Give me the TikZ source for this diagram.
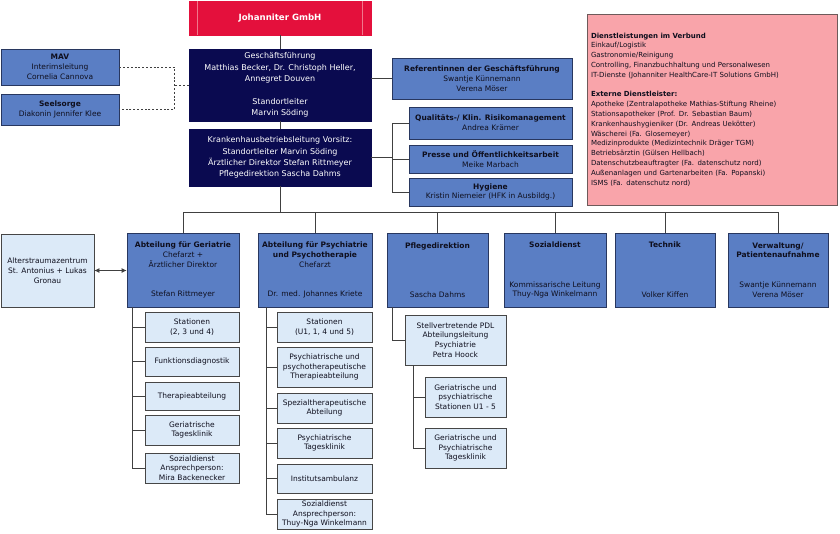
\documentclass[tikz,border=0pt]{standalone}
\usepackage{fontspec}
\setmainfont{DejaVu Sans}
\usetikzlibrary{arrows.meta,calc}
\definecolor{jred}{RGB}{228,16,60}
\definecolor{jredline}{RGB}{240,120,140}
\definecolor{navy}{RGB}{10,10,80}
\definecolor{midblue}{RGB}{90,126,196}
\definecolor{midborder}{RGB}{40,55,95}
\definecolor{lightblue}{RGB}{220,234,248}
\definecolor{lightborder}{RGB}{70,70,70}
\definecolor{pinkfill}{RGB}{249,164,170}
\definecolor{pinkborder}{RGB}{110,90,90}
\definecolor{connc}{RGB}{64,64,64}
\definecolor{txt}{RGB}{15,15,30}
\newcommand\ftxt{\fontsize{7.5}{9.8}\selectfont}
\newcommand\fbig{\fontsize{8}{11.3}\selectfont}
\newcommand\ftitle{\fontsize{8.6}{11}\selectfont\bfseries}
\newcommand\fpink{\fontsize{7}{9.8}\selectfont}
\begin{document}
\begin{tikzpicture}[x=1pt,y=-1pt,
  basebox/.style={inner sep=1pt, align=center, line width=0.8pt},
  redbox/.style={basebox, draw=jred, fill=jred, text=white, font=\ftitle},
  navybox/.style={basebox, draw=navy, fill=navy, text=white, font=\fbig},
  midbox/.style={basebox, draw=midborder, fill=midblue, text=txt, font=\ftxt},
  lightbox/.style={basebox, draw=lightborder, fill=lightblue, text=txt, font=\ftxt},
  pinkbox/.style={draw=pinkborder, fill=pinkfill, line width=0.8pt, inner xsep=4pt, inner ysep=2pt, align=left, text width=242pt, text=txt, font=\fpink},
  deptsize/.style={minimum height=74},
  conn/.style={draw=connc, line width=0.8pt},
  dashline/.style={draw=connc, line width=0.8pt, dash pattern=on 2pt off 1.8pt},
  redinner/.style={draw=jredline, line width=0.6pt}
]
\useasboundingbox[fill=white] (0,0) rectangle (840,533);

% top
\node[redbox, minimum width=182, minimum height=34] (joh) at (280,18) {Johanniter GmbH};
\draw[redinner] ($(joh.north west)+(9,0.6)$) -- ($(joh.south west)+(9,-0.6)$);
\draw[redinner] ($(joh.north east)+(-9,0.6)$) -- ($(joh.south east)+(-9,-0.6)$);

\node[navybox, minimum width=182, minimum height=72] (gf) at (280,85)
  {Geschäftsführung\\Matthias Becker, Dr. Christoph Heller,\\Annegret Douven\\[11.3pt]Standortleiter\\Marvin Söding};
\node[navybox, minimum width=182, minimum height=57] (kbl) at (280,157.5)
  {Krankenhausbetriebsleitung Vorsitz:\\Standortleiter Marvin Söding\\Ärztlicher Direktor Stefan Rittmeyer\\Pflegedirektion Sascha Dahms};

\draw[conn] (joh.south) -- (gf.north);
\draw[conn] (gf.south) -- (kbl.north);

% left staff
\node[midbox, minimum width=118, minimum height=36] (mav) at (60,67) {\textbf{MAV}\\Interimsleitung\\Cornelia Cannova};
\node[midbox, minimum width=118, minimum height=31] (see) at (60,109.5) {\textbf{Seelsorge}\\Diakonin Jennifer Klee};
\draw[dashline] (mav.east) -- ++(55,0) coordinate (dtop) |- (see.east);
\draw[dashline] (gf.west) -- (gf.west -| dtop);

% right staff
\node[midbox, minimum width=180, minimum height=41] (ref) at (482,78.5)
  {\textbf{Referentinnen der Geschäftsführung}\\Swantje Künnemann\\Verena Möser};
\draw[conn] (ref.west) -- (ref.west -| gf.east);

\node[midbox, minimum width=163, minimum height=32] (qual) at (490.5,123) {\textbf{Qualitäts-/ Klin. Risikomanagement}\\Andrea Krämer};
\node[midbox, minimum width=163, minimum height=28] (pres) at (490.5,159) {\textbf{Presse und Öffentlichkeitsarbeit}\\Meike Marbach};
\node[midbox, minimum width=163, minimum height=28] (hyg) at (490.5,192) {\textbf{Hygiene}\\Kristin Niemeier (HFK in Ausbildg.)};
\draw[conn] (kbl.east) -- ++(21,0) coordinate (br);
\draw[conn] (br |- qual.west) -- (br |- hyg.west);
\draw[conn] (br |- qual.west) -- (qual.west);
\draw[conn] (br |- pres.west) -- (pres.west);
\draw[conn] (br |- hyg.west) -- (hyg.west);

% services box
\node[pinkbox, minimum width=250, minimum height=191] (dl) at (712,109.5)
  {\textbf{Dienstleistungen im Verbund}\\
   Einkauf/Logistik\\
   Gastronomie/Reinigung\\
   Controlling, Finanzbuchhaltung und Personalwesen\\
   IT-Dienste (Johanniter HealthCare-IT Solutions GmbH)\\[9.8pt]
   \textbf{Externe Dienstleister:}\\
   Apotheke (Zentralapotheke Mathias-Stiftung Rheine)\\
   Stationsapotheker (Prof. Dr. Sebastian Baum)\\
   Krankenhaushygieniker (Dr. Andreas Uekötter)\\
   Wäscherei (Fa. Glosemeyer)\\
   Medizinprodukte (Medizintechnik Dräger TGM)\\
   Betriebsärztin (Gülsen Hellbach)\\
   Datenschutzbeauftragter (Fa. datenschutz nord)\\
   Außenanlagen und Gartenarbeiten (Fa. Popanski)\\
   ISMS (Fa. datenschutz nord)};

% departments
\node[midbox, deptsize, minimum width=112] (ger) at (183,270)
  {\textbf{Abteilung für Geriatrie}\\Chefarzt +\\Ärztlicher Direktor\\[20pt]Stefan Rittmeyer};
\node[midbox, deptsize, minimum width=114] (psy) at (315,270)
  {\textbf{Abteilung für Psychiatrie}\\\textbf{und Psychotherapie}\\Chefarzt\\[20pt]Dr. med. Johannes Kriete};
\node[midbox, deptsize, minimum width=101] (pfl) at (437.5,270)
  {\textbf{Pflegedirektion}\\[39pt]Sascha Dahms};
\node[midbox, deptsize, minimum width=102] (soz) at (555,270)
  {\textbf{Sozialdienst}\\[30pt]Kommissarische Leitung\\Thuy-Nga Winkelmann};
\node[midbox, deptsize, minimum width=100] (tec) at (665,270)
  {\textbf{Technik}\\[40pt]Volker Kiffen};
\node[midbox, deptsize, minimum width=100] (ver) at (778,270)
  {\textbf{Verwaltung/}\\\textbf{Patientenaufnahme}\\[20pt]Swantje Künnemann\\Verena Möser};

\draw[conn] (kbl.south) -- ++(0,26) coordinate (bus);
\foreach \d in {ger,psy,pfl,soz,tec,ver} \draw[conn] (bus) -| (\d.north);

\node[lightbox, minimum width=93, minimum height=73] (alt) at (47.5,270.5)
  {Alterstraumazentrum\\St. Antonius + Lukas\\Gronau};
\draw[conn, {Latex[length=5pt,width=5pt]}-{Latex[length=5pt,width=5pt]}] (alt.east) -- (alt.east -| ger.west);

% Geriatrie subunits
\node[lightbox, minimum width=94, minimum height=30] (gs1) at (192,327) {Stationen\\(2, 3 und 4)};
\node[lightbox, minimum width=94, minimum height=29] (gs2) at (192,361.5) {Funktionsdiagnostik};
\node[lightbox, minimum width=94, minimum height=28] (gs3) at (192,396) {Therapieabteilung};
\node[lightbox, minimum width=94, minimum height=30] (gs4) at (192,430) {Geriatrische\\Tagesklinik};
\node[lightbox, minimum width=94, minimum height=30] (gs5) at (192,468) {Sozialdienst\\Ansprechperson:\\Mira Backenecker};
\coordinate (gtop) at ($(ger.south west)+(6,0)$);
\foreach \s in {gs1,gs2,gs3,gs4,gs5} \draw[conn] (gtop) |- (\s.west);

% Psychiatrie subunits
\node[lightbox, minimum width=95, minimum height=30] (ps1) at (324.5,327) {Stationen\\(U1, 1, 4 und 5)};
\node[lightbox, minimum width=95, minimum height=40] (ps2) at (324.5,367) {Psychiatrische und\\psychotherapeutische\\Therapieabteilung};
\node[lightbox, minimum width=95, minimum height=30] (ps3) at (324.5,408) {Spezialtherapeutische\\Abteilung};
\node[lightbox, minimum width=95, minimum height=30] (ps4) at (324.5,443) {Psychiatrische\\Tagesklinik};
\node[lightbox, minimum width=95, minimum height=29] (ps5) at (324.5,478.5) {Institutsambulanz};
\node[lightbox, minimum width=95, minimum height=30] (ps6) at (324.5,514) {Sozialdienst\\Ansprechperson:\\Thuy-Nga Winkelmann};
\coordinate (ptop) at ($(psy.south west)+(9,0)$);
\foreach \s in {ps1,ps2,ps3,ps4,ps5,ps6} \draw[conn] (ptop) |- (\s.west);

% Pflegedirektion subunits
\node[lightbox, minimum width=101, minimum height=50] (pf1) at (455.5,340) {Stellvertretende PDL\\Abteilungsleitung\\Psychiatrie\\Petra Hoock};
\node[lightbox, minimum width=81, minimum height=40] (pf2) at (465.5,397) {Geriatrische und\\psychiatrische\\Stationen U1 - 5};
\node[lightbox, minimum width=81, minimum height=40] (pf3) at (465.5,448) {Geriatrische und\\Psychiatrische\\Tagesklinik};
\draw[conn] ($(pfl.south west)+(6,0)$) |- (pf1.west);
\coordinate (pftop) at ($(pf1.south west)+(9,0)$);
\foreach \s in {pf2,pf3} \draw[conn] (pftop) |- (\s.west);
\end{tikzpicture}
\end{document}
